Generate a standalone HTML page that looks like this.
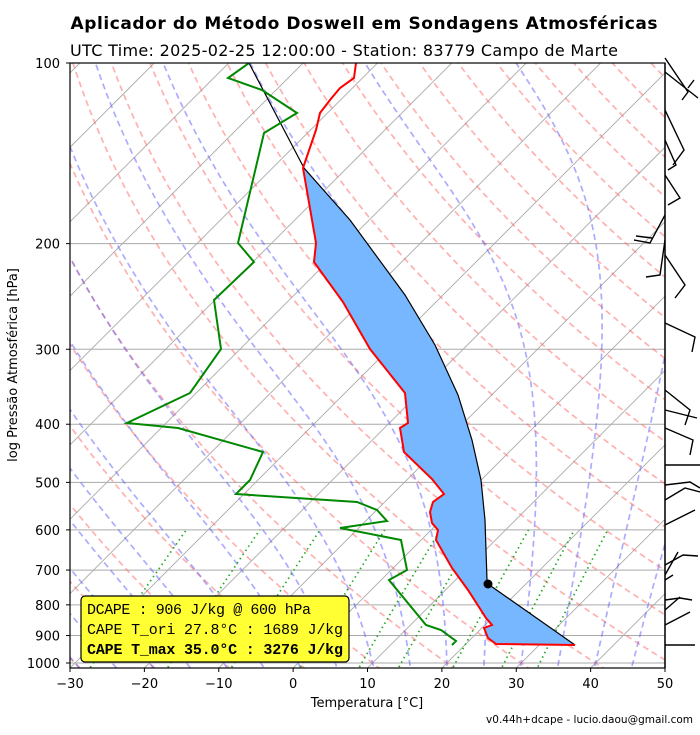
<!DOCTYPE html>
<html><head><meta charset="utf-8"><style>
body{margin:0;background:#fff;width:700px;height:730px;overflow:hidden;font-family:"Liberation Sans","DejaVu Sans",sans-serif}
</style></head><body>
<svg id="s" width="700" height="730" xmlns="http://www.w3.org/2000/svg" font-family="DejaVu Sans, Liberation Sans, sans-serif">
<defs><clipPath id="c"><rect x="70" y="63" width="595" height="605"/></clipPath></defs>
<text x="364" y="29" text-anchor="middle" font-size="17" font-weight="bold" textLength="587">Aplicador do Método Doswell em Sondagens Atmosféricas</text>
<text x="344" y="56" text-anchor="middle" font-size="16" textLength="548">UTC Time: 2025-02-25 12:00:00 - Station: 83779 Campo de Marte</text>
<g id="grid" clip-path="url(#c)"></g>
<g id="data" clip-path="url(#c)">
<polygon fill="#76b7ff" points="304,168 350,220 405,295 435,345 458,395 472,440 481,480 485,520 487,580 488,584 575,645 496,644 488,638 484,628 492,625 486,618 468,590 452,568 436,540 438,530 432,523 430,512 433,502 444,494 432,479 404,452 400,428 408,423 405,393 370,349 343,302 314,262 316,243 303,168"/>
<polyline fill="none" stroke="#000" stroke-width="1.2" points="249,63 304,168 350,220 405,295 435,345 458,395 472,440 481,480 485,520 487,580 488,584 575,645"/>
<polyline fill="none" stroke="#f00" stroke-width="2" points="356,63 354,78 340,88 330,100 320,113 316,130 303,168 316,243 314,262 343,302 370,349 405,393 408,423 400,428 404,452 432,479 444,494 433,502 430,512 432,523 438,530 436,540 452,568 468,590 486,618 492,625 484,628 488,638 496,644 575,645"/>
<polyline fill="none" stroke="#080" stroke-width="2" points="249,63 228,78 262,90 297,113 264,133 238,243 254,262 214,300 221,349 190,393 127,423 178,428 263,452 250,480 236,494 357,502 377,510 387,521 340,528 401,540 407,570 389,580 426,625 441,630 456,641 452,645"/>
<circle cx="488" cy="584" r="4.5" fill="#000"/>
</g>
<rect x="70" y="63" width="595" height="605" fill="none" stroke="#000" stroke-width="1.2"/>
<g id="ax" font-size="13"></g>
<text x="367" y="707" text-anchor="middle" font-size="13">Temperatura [°C]</text>
<text transform="translate(17,365) rotate(-90)" text-anchor="middle" font-size="13">log Pressão Atmosférica [hPa]</text>
<text x="693" y="723" text-anchor="end" font-size="10.5">v0.44h+dcape  -  lucio.daou@gmail.com</text>
<g id="barbs" stroke="#000" stroke-width="1.4" fill="none"></g>
<rect x="81" y="596" width="268" height="66" rx="4" fill="#ffff33" stroke="#000" stroke-width="1.2"/>
<text x="87" y="614" font-size="15" font-family="Liberation Mono, monospace" textLength="224">DCAPE : 906 J/kg @ 600 hPa</text>
<text x="87" y="634" font-size="15" font-family="Liberation Mono, monospace" textLength="256">CAPE T_ori 27.8°C : 1689 J/kg</text>
<text x="87" y="654" font-size="15" font-weight="bold" font-family="Liberation Mono, monospace" textLength="256">CAPE T_max 35.0°C : 3276 J/kg</text>
</svg>
<script>
var NS="http://www.w3.org/2000/svg";
function el(par,tag,a,txt){var e=document.createElementNS(NS,tag);for(var k in a)e.setAttribute(k,a[k]);if(txt!==undefined)e.textContent=txt;document.getElementById(par).appendChild(e);return e;}
function Y(p){return 63+600*Math.log10(p/100);}
function X(T,p){var y=Y(p);return 70+(T+30)*7.4375+(668-y);}
function line(pts,st,w,da){el("grid","polyline",{points:pts.map(function(q){return q[0].toFixed(1)+","+q[1].toFixed(1)}).join(" "),fill:"none",stroke:st,"stroke-width":w,"stroke-dasharray":da||"none"});}
var ps=[];for(var p=1050;p>=95;p-=5)ps.push(p);
for(var p=100;p<=1000;p+=100)line([[70,Y(p)],[665,Y(p)]],"#aaa",1);
for(var T=-150;T<=60;T+=10){line([[X(T,1030),Y(1030)],[X(T,90),Y(90)]],"#aaa",0.9);}
for(var t0=-30;t0<=200;t0+=10){var pts=ps.map(function(p){return [X((t0+273.15)*Math.pow(p/1000,0.2857)-273.15,p),Y(p)]});line(pts,"rgba(255,100,100,0.5)",1.7,"6,4");}
function es(T){return 6.112*Math.exp(17.67*T/(T+243.5));}
function dTdp(T,p){var Tk=T+273.15,e=es(T),rs=0.622*e/(p-e),Lv=2.501e6,Rd=287.04,Cp=1005.7;return (1/p)*(Rd*Tk+Lv*rs)/(Cp+Lv*Lv*rs*0.622/(Rd*Tk*Tk));}
for(var t0=-30;t0<=45;t0+=5){var T=t0,pts=[[X(T,1000),Y(1000)]];for(var p=1000;p>100;p-=2){T-=2*dTdp(T,p);pts.push([X(T,p-2),Y(p-2)]);}
var T2=t0,pd=[];for(var p=1000;p<1050;p+=2){T2+=2*dTdp(T2,p);pd.push([X(T2,p+2),Y(p+2)]);}
line(pd.reverse().concat(pts),"rgba(90,90,255,0.5)",1.7,"6,4");}
[0.0004,0.001,0.002,0.004,0.007,0.01,0.016,0.024,0.032].forEach(function(w){var pts=[];for(var p=1050;p>=600;p-=10){var e=p*w/(0.622+w),l=Math.log(e/6.112),Td=243.5*l/(17.67-l);pts.push([X(Td,p),Y(p)]);}line(pts,"#2a2",1.7,"1.5,3.5");});
for(var p=100;p<=1000;p+=100){var y=Y(p);el("ax","line",{x1:66,x2:70,y1:y,y2:y,stroke:"#000"});el("ax","text",{x:60,y:y+5,"text-anchor":"end"},String(p));}
for(var T=-30;T<=50;T+=10){var x=70+(T+30)*7.4375;el("ax","line",{x1:x,x2:x,y1:668,y2:672,stroke:"#000"});el("ax","text",{x:x,y:688,"text-anchor":"middle"},(T<0?"\u2212"+(-T):String(T)));}
[[[665,58],[688,92],[682,100]],[[665,72],[698,98]],[[688,88],[694,80]],[[665,110],[684,150],[673,165]],[[665,140],[676,165],[668,170]],[[665,175],[680,198],[668,205]],[[665,215],[650,243],[634,240]],[[652,238],[636,236]],[[665,240],[660,275],[646,277]],[[665,255],[685,285],[675,298]],[[665,323],[695,337],[692,352]],[[665,390],[690,410],[685,425]],[[665,410],[697,418]],[[665,428],[693,440],[690,455]],[[665,465],[700,465]],[[665,485],[690,482],[700,488]],[[665,500],[685,488],[700,492]],[[665,525],[695,510]],[[665,565],[683,555],[698,556]],[[665,580],[673,575]],[[665,600],[680,598],[692,600]],[[665,625],[690,612]],[[665,645],[695,645]],[[665,575],[678,552]],[[665,610],[680,597]]].forEach(function(b){el("barbs","polyline",{points:b.map(function(q){return q.join(",")}).join(" ")});});
el("barbs","line",{x1:665,y1:63,x2:665,y2:668});
</script>
</body></html>
